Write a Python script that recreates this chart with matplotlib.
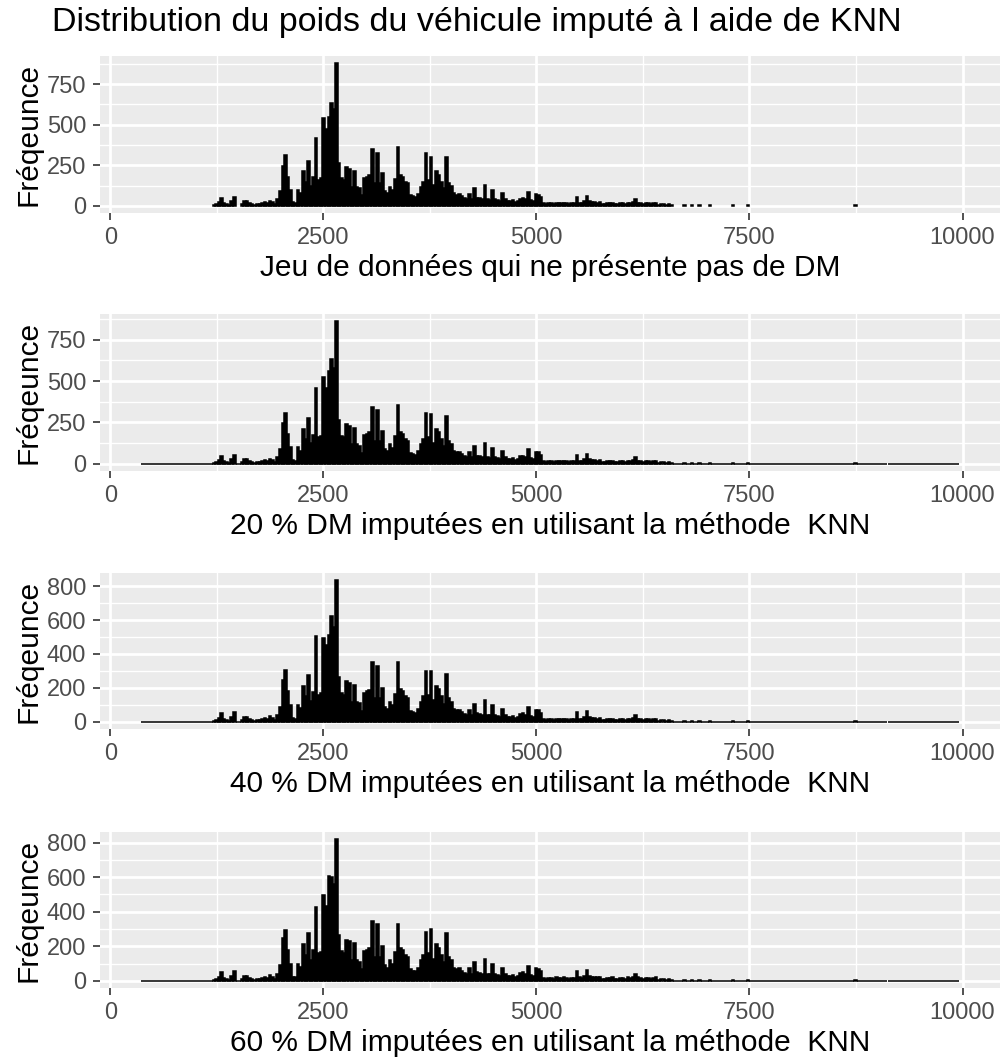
import matplotlib.pyplot as plt
import numpy as np

# histogram of vehicle weight, binwidth 30, first bin starts at 1200
bin_start = 1200
binwidth = 30
counts = [
    8, 12, 25, 50, 15, 10, 8, 30, 56, 0,
    0, 12, 30, 28, 18, 10, 8, 12, 10, 15,
    22, 18, 32, 25, 12, 40, 90, 248, 316, 180,
    100, 25, 20, 100, 80, 212, 150, 275, 123, 177,
    417, 160, 170, 540, 473, 550, 633, 598, 880, 265,
    171, 160, 238, 229, 119, 217, 119, 110, 67, 173,
    181, 190, 352, 140, 327, 140, 200, 90, 77, 119,
    98, 167, 363, 192, 180, 150, 140, 67, 60, 55,
    75, 119, 150, 323, 160, 302, 129, 212, 192, 150,
    108, 302, 140, 120, 77, 70, 72, 60, 46, 40,
    73, 40, 108, 50, 46, 40, 129, 42, 38, 98,
    40, 35, 30, 77, 40, 30, 28, 35, 25, 30,
    45, 50, 40, 87, 35, 28, 73, 70, 55, 15,
    12, 15, 18, 12, 20, 15, 18, 20, 15, 12,
    15, 18, 56, 20, 15, 30, 62, 30, 25, 22,
    20, 22, 10, 12, 18, 15, 20, 12, 10, 18,
    15, 10, 20, 15, 25, 42, 20, 15, 12, 18,
    15, 10, 15, 20, 8, 10, 12, 8, 10, 6,
]
# isolated heavy vehicles (left edge of bin, count)
tail_left = [6720, 6810, 6900, 7020, 7290, 7470, 8730]
tail_n = [8, 6, 6, 8, 6, 5, 5]

# main peaks that differ between the four datasets
peak_bins = [28, 40, 43, 44, 45, 46, 47, 48, 62, 72, 83, 91]
peaks_p1 = [316, 417, 540, 473, 550, 633, 598, 880, 352, 363, 323, 302]
peaks_p2 = [310, 458, 523, 458, 558, 631, 580, 862, 345, 355, 308, 290]
peaks_p3 = [305, 505, 495, 450, 509, 621, 557, 835, 350, 350, 301, 282]
peaks_p4 = [294, 429, 494, 433, 609, 601, 560, 820, 347, 328, 280, 275]

# imputed datasets span the whole range 360..9960 (empty bins drawn flat)
full_lo, full_hi = 360, 9960

xlabels = [
    "Jeu de données qui ne présente pas de DM",
    "20 % DM imputées en utilisant la méthode  KNN",
    "40 % DM imputées en utilisant la méthode  KNN",
    "60 % DM imputées en utilisant la méthode  KNN",
]
ystep = [250, 250, 200, 200]
peaks = [peaks_p1, peaks_p2, peaks_p3, peaks_p4]

plt.rcParams['font.family'] = ['Liberation Sans', 'DejaVu Sans']
fig = plt.figure(figsize=(10.02, 10.61), dpi=100)

W, H = 1002, 1061
boxes = [(56, 213), (314, 471), (573, 729), (832, 988)]

for k in range(4):
    top, bot = boxes[k]
    ax = fig.add_axes([100 / W, 1 - bot / H, 900 / W, (bot - top) / H])

    n = np.array(counts, dtype=float)
    n[peak_bins] = peaks[k]
    left = bin_start + binwidth * np.arange(len(n))
    left = np.concatenate([left, tail_left])
    n = np.concatenate([n, tail_n])

    if k == 0:
        keep = n > 0
        left, n = left[keep], n[keep]
    else:
        all_left = np.arange(full_lo, full_hi, binwidth)
        extra = all_left[~np.isin(all_left, left)]
        left = np.concatenate([left, extra])
        n = np.concatenate([n, np.zeros(len(extra))])

    ax.bar(left, n, width=binwidth, align='edge', color='black',
           edgecolor='black', linewidth=1.1, zorder=3)

    ymax = n.max()
    ax.set_ylim(-0.05 * ymax, 1.05 * ymax)
    ax.set_xlim(-120, 10440)

    ax.set_facecolor('#EBEBEB')
    for s in ax.spines.values():
        s.set_visible(False)
    ax.set_xticks([0, 2500, 5000, 7500, 10000])
    ax.set_xticks([1250, 3750, 6250, 8750], minor=True)
    ax.set_yticks(np.arange(0, ymax + 1, ystep[k]))
    ax.set_yticks(np.arange(ystep[k] / 2, ymax * 1.05, ystep[k]), minor=True)
    ax.grid(which='major', color='white', linewidth=2.0, zorder=0)
    ax.grid(which='minor', color='white', linewidth=1.0, zorder=0)
    ax.set_axisbelow(True)
    ax.tick_params(which='major', length=5, width=1.2, color='#333333',
                   labelsize=17, labelcolor='#4D4D4D', pad=5)
    ax.tick_params(which='minor', length=0)
    ax.set_xlabel(xlabels[k], fontsize=21.5, color='black', labelpad=4)
    ax.set_ylabel("Fréqeunce", fontsize=21.5, color='black', labelpad=3)

fig.text(52 / W, 1 - 23 / H, "Distribution du poids du véhicule imputé à l aide de KNN",
         fontsize=24.5, ha='left', va='center')

plt.savefig('out.png', dpi=100)
